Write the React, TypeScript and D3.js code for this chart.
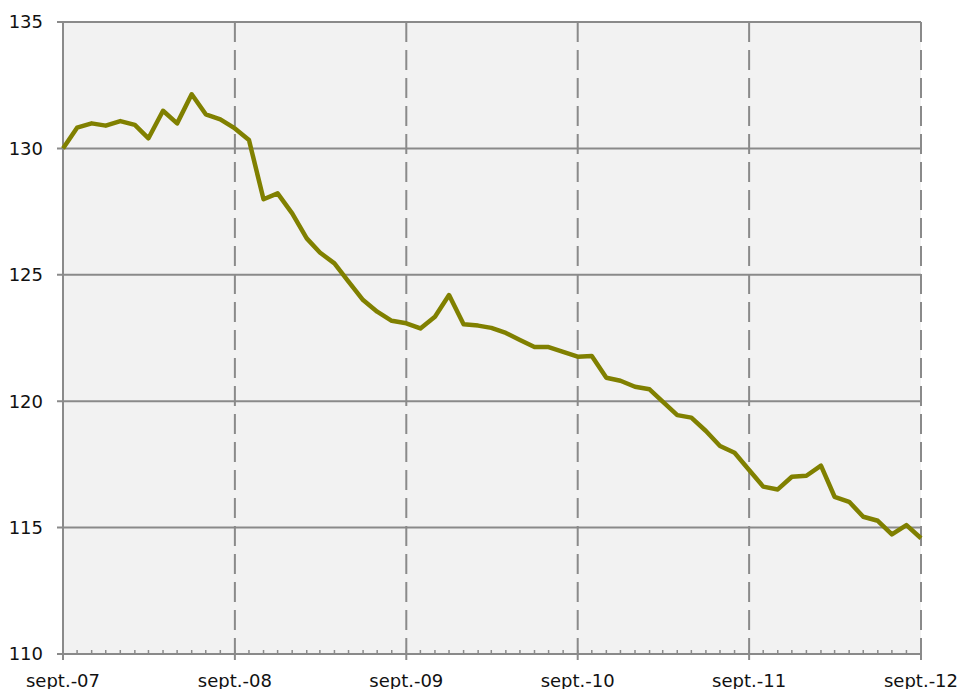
import React from 'react';
import * as d3 from 'd3';

// monthly index, sept. 2007 -> sept. 2012
const values = [
  130.0, 130.82, 130.99, 130.9, 131.08, 130.93, 130.4, 131.49, 130.99, 132.14,
  131.35, 131.15, 130.79, 130.33, 127.99, 128.22, 127.43, 126.44, 125.88, 125.45,
  124.73, 124.0, 123.54, 123.18, 123.08, 122.88, 123.34, 124.2, 123.04, 122.99,
  122.9, 122.7, 122.42, 122.14, 122.14, 121.95, 121.76, 121.79, 120.93, 120.81,
  120.57, 120.47, 119.98, 119.45, 119.35, 118.82, 118.23, 117.96, 117.28, 116.62,
  116.51, 117.01, 117.05, 117.45, 116.22, 116.02, 115.43, 115.27, 114.73, 115.1,
  114.58,
];
const yearLabels = ['sept.-07', 'sept.-08', 'sept.-09', 'sept.-10', 'sept.-11', 'sept.-12'];
const yTicks = [110, 115, 120, 125, 130, 135];

const start = new Date(2007, 8, 1);
const dates = values.map((_, i) => d3.timeMonth.offset(start, i));
const yearDates = yearLabels.map((_, i) => d3.timeYear.offset(start, i));

const W = 971, H = 689;
const left = 63, right = 921, top = 22, bottom = 654;
const grid = '#8a8a8a';
const font = '"DejaVu Sans", Verdana, sans-serif';

export default function App() {
  const x = d3.scaleTime().domain([start, yearDates[yearDates.length - 1]]).range([left, right]);
  const y = d3.scaleLinear().domain([110, 135]).range([bottom, top]);
  const line = d3.line<number>().x((_, i) => x(dates[i])).y(d => y(d));
  const months = d3.timeMonth.range(start, d3.timeMonth.offset(yearDates[yearDates.length - 1], 1));

  return (
    <svg width={W} height={H} style={{ position: 'fixed', left: 0, top: 0, background: '#fff' }}>
      <rect x={left} y={top} width={right - left} height={bottom - top} fill="#f2f2f2" />
      {yTicks.map(t => (
        <g key={t}>
          <line x1={left - 6} x2={right} y1={y(t)} y2={y(t)} stroke={grid} strokeWidth={2} />
          <text x={43} y={y(t)} dy="0.36em" textAnchor="end" fontFamily={font} fontSize={18} fill="#111">{t}</text>
        </g>
      ))}
      {yearDates.slice(1).map((d, i) => (
        <line key={i} x1={x(d)} x2={x(d)} y1={top} y2={bottom} stroke={grid} strokeWidth={2} strokeDasharray="20 8" />
      ))}
      <line x1={left} x2={left} y1={top} y2={bottom} stroke={grid} strokeWidth={2} />
      <line x1={left} x2={right} y1={bottom} y2={bottom} stroke={grid} strokeWidth={2} />
      {months.map((d, i) => (
        <line key={'m' + i} x1={x(d)} x2={x(d)} y1={bottom - 4} y2={bottom} stroke={grid} strokeWidth={1.5} />
      ))}
      {yearDates.map((d, i) => (
        <g key={'y' + i}>
          <line x1={x(d)} x2={x(d)} y1={bottom} y2={bottom + 6} stroke={grid} strokeWidth={2} />
          <text x={x(d)} y={687} textAnchor="middle" fontFamily={font} fontSize={18} fill="#111">{yearLabels[i]}</text>
        </g>
      ))}
      <path d={line(values) || ''} fill="none" stroke="#808000" strokeWidth={4.5} strokeLinejoin="round" />
    </svg>
  );
}
